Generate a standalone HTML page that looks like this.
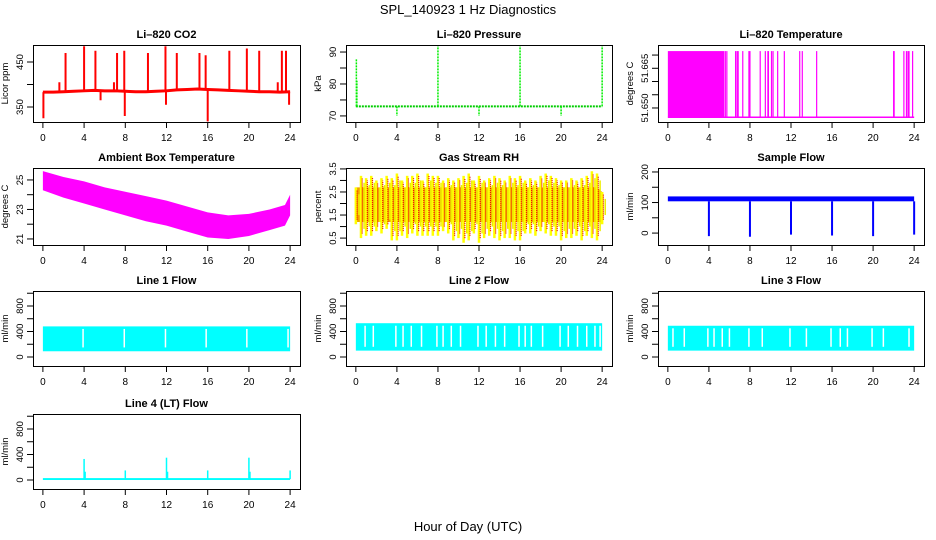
<!DOCTYPE html>
<html><head><meta charset="utf-8">
<style>
html,body{margin:0;padding:0;background:#fff;}
svg{display:block;font-family:"Liberation Sans",sans-serif;}
</style></head>
<body>
<svg id="fig" width="936" height="540" viewBox="0 0 936 540" xmlns="http://www.w3.org/2000/svg">
<text x="468" y="14" font-size="13" text-anchor="middle">SPL_140923  1 Hz Diagnostics</text>
<text x="468" y="531" font-size="13" text-anchor="middle">Hour of Day (UTC)</text>
</svg>
<script>
// ---- data ----
const xTicks = [0,4,8,12,16,20,24];
// CO2
const co2BaseT = [0,1,2,3,4,5,6,7,8,9,10,11,12,13,14,15,16,17,18,19,20,21,22,23,24];
const co2BaseV = [383,383,384,385,386,387,386,386,385,384,384,385,386,388,389,390,389,388,387,386,385,384,384,383,384];
const co2SpikeT = [0.05,1.6,2.2,4.0,5.1,5.6,6.9,7.2,7.9,7.95,10.2,11.9,11.95,13.0,15.2,15.8,16.0,18.1,19.8,21.0,22.8,23.2,23.6,23.9];
const co2SpikeV = [325,405,470,485,475,365,405,470,475,330,470,485,355,470,470,465,318,475,480,475,405,475,475,355];
// Pressure
const presSpikeT = [0.05,0.1,4,8,12,16,20,24];
const presSpikeV = [88,81,70,92,70,92,70,92];
const presBase = 73;
// Li-820 temperature
const ltempFillEnd = 5.5;
const ltempLineT = [5.6,5.75,6.6,6.75,6.85,7.3,7.9,8.0,9.0,9.5,9.75,9.8,10.1,10.25,10.7,11.35,12.85,13.1,14.5,22.0,22.05,23.0,23.25,23.4,23.5,23.85];
const ltempHi = 51.6715, ltempLo = 51.6465;
// Ambient box temperature
const ambT = [0,2,4,6,8,10,12,14,16,18,20,22,23.5,24];
const ambHi = [25.6,25.2,24.9,24.5,24.2,23.9,23.6,23.2,22.8,22.6,22.7,23.0,23.3,24.0];
const ambLo = [24.3,23.8,23.4,23.0,22.6,22.2,21.9,21.5,21.1,21.0,21.2,21.6,21.9,22.6];
// Gas stream RH
const rhT = [0,0.5,1,1.5,2,2.5,3,3.5,4,4.5,5,5.5,6,6.5,7,7.5,8,8.5,9,9.5,10,10.5,11,11.5,12,12.5,13,13.5,14,14.5,15,15.5,16,16.5,17,17.5,18,18.5,19,19.5,20,20.5,21,21.5,22,22.5,23,23.5,24];
const rhHi = [2.7,3.2,3.1,3.2,3.0,3.1,3.2,3.1,3.3,3.0,3.2,3.2,3.3,3.0,3.3,3.2,3.2,3.0,3.1,3.0,3.1,3.2,3.3,3.0,3.2,3.0,3.1,3.2,3.1,3.0,3.2,3.1,3.2,3.0,3.1,3.0,3.2,3.3,3.2,3.1,3.0,3.0,3.1,3.0,3.1,3.2,3.4,3.3,2.5];
const rhLo = [1.1,0.5,0.6,0.6,0.8,0.7,0.9,0.4,0.4,0.6,0.5,0.7,0.6,0.6,0.6,0.6,0.6,0.8,0.7,0.4,0.5,0.3,0.4,0.7,0.3,0.5,0.6,0.5,0.4,0.5,0.5,0.4,0.4,0.7,0.7,0.6,0.8,0.7,0.6,0.6,0.4,0.5,0.5,0.6,0.4,0.6,0.5,0.4,1.1];
// Sample flow
const sfBaseLo = 104, sfBaseHi = 120;
const sfDipT = [4,8,12,16,20,24];
const sfDipV = [-10,-12,-5,-8,-10,-5];
// Line flows
const l1Lo = 90, l1Hi = 480, l1GapT = [3.9,7.9,11.9,15.85,19.8,23.8];
const l2Lo = 100, l2Hi = 530, l2GapT = [0.9,1.7,3.9,4.6,5.4,6.4,7.9,8.5,9.3,10.2,11.9,12.7,13.6,14.5,15.9,16.5,17.1,18.2,19.9,20.7,21.6,22.5,23.3,23.8];
const l3Lo = 100, l3Hi = 490, l3GapT = [0.5,1.6,3.9,4.5,5.3,6.0,7.9,9.2,11.9,13.5,15.9,16.8,17.5,19.9,21.0,23.5];
const l4Base = 15;
const l4SpikeT = [4.0,4.1,8.0,12.0,12.1,16.0,20.0,20.1,24.0];
const l4SpikeV = [330,130,150,350,130,150,350,130,150];

// ---- layout ----
const svg = document.getElementById('fig');
const NS = 'http://www.w3.org/2000/svg';
const cols = [[33,300],[346,612],[658,924]];
const rows = [[45,122],[168,245],[291,366],[414,489]];
function el(tag, attrs, parent){ const e=document.createElementNS(NS,tag); for(const k in attrs) e.setAttribute(k,attrs[k]); (parent||svg).appendChild(e); return e; }

function panel(name, title, ylab, c, r, ymin, ymax, yt, ytLab){
  const [L,R]=cols[c],[T,B]=rows[r];
  const g = el('g',{});
  
  
  const p = {L,R,T,B,g,
    x:v=>L+(v+0.96)/25.92*(R-L),
    y:v=>T+(ymax-v)/(ymax-ymin)*(B-T)};
  const tt = el('text',{x:(L+R)/2,y:T-7,'font-size':11,'font-weight':'bold','text-anchor':'middle'},g);
  tt.textContent = title;
  
  
  p.plot = el('g',{},g);
  
  
  const box = el('rect',{x:L+0.5,y:T+0.5,width:R-L,height:B-T,fill:'none',stroke:'#000'},g);
  
  
  const xa = el('g',{},g);
  
  
  el('line',{x1:p.x(0),x2:p.x(24),y1:B+0.5,y2:B+0.5,stroke:'#000'},xa);
  xTicks.forEach(v=>{
    el('line',{x1:p.x(v),x2:p.x(v),y1:B,y2:B+6,stroke:'#000'},xa);
    const t=el('text',{x:p.x(v),y:B+19,'font-size':10,'text-anchor':'middle'},xa); t.textContent=v;
  });
  const ya = el('g',{},g);
  
  
  el('line',{x1:L+0.5,x2:L+0.5,y1:p.y(yt[0]),y2:p.y(yt[yt.length-1]),stroke:'#000'},ya);
  yt.forEach((v,i)=>{
    el('line',{x1:L-6,x2:L,y1:p.y(v),y2:p.y(v),stroke:'#000'},ya);
    if(ytLab[i]){ const yy=p.y(v); const t=el('text',{x:L-10,y:yy,'font-size':9.5,'text-anchor':'middle',transform:`rotate(-90 ${L-10} ${yy})`},ya); t.textContent=ytLab[i]; }
  });
  const yl=el('text',{x:L-25,y:(T+B)/2,'font-size':9.5,'text-anchor':'middle',transform:`rotate(-90 ${L-25} ${(T+B)/2})`},g);
  yl.textContent=ylab;
  
  
  return p;
}
function vline(p,t,a,b,col,w,dash){ const e=el('line',{x1:p.x(t),x2:p.x(t),y1:p.y(a),y2:p.y(b),stroke:col,'stroke-width':w||1.5},p.plot); if(dash) e.setAttribute('stroke-dasharray',dash); return e; }
function band(p,t0,t1,lo,hi,col){ return el('rect',{x:p.x(t0),y:p.y(hi),width:p.x(t1)-p.x(t0),height:p.y(lo)-p.y(hi),fill:col},p.plot); }

// CO2
let p = panel('co2-panel','Li\u2013820 CO2','Licor ppm',0,0,316.7,487.8,[350,400,450],['350','','450']);
let d='';
co2BaseT.forEach((t,i)=>{ d+=(i?'L':'M')+p.x(t)+' '+p.y(co2BaseV[i]); });
el('path',{d,fill:'none',stroke:'#f00','stroke-width':3},p.plot);
co2SpikeT.forEach((t,i)=>{ const b=co2BaseV[Math.min(24,Math.round(t))]; vline(p,t,b,co2SpikeV[i],'#f00',2); });

// Pressure
p = panel('pressure-panel','Li\u2013820 Pressure','kPa',1,0,68.1,92.2,[70,75,80,85,90],['70','','80','','90']);
el('line',{x1:p.x(0),x2:p.x(24),y1:p.y(presBase),y2:p.y(presBase),stroke:'#0c0','stroke-width':2,'stroke-dasharray':'2 1'},p.plot);
presSpikeT.forEach((t,i)=>vline(p,t,presBase,presSpikeV[i],'#0e0',1.5,'2 1'));

// Li-820 temperature
p = panel('li820-temp-panel','Li\u2013820 Temperature','degrees C',2,0,51.6447,51.6738,[51.650,51.655,51.660,51.665,51.670],['51.650','','','51.665','']);
band(p,0,ltempFillEnd,ltempLo,ltempHi,'#f0f');
el('line',{x1:p.x(0),x2:p.x(24),y1:p.y(ltempLo),y2:p.y(ltempLo),stroke:'#f0f','stroke-width':1.5},p.plot);
ltempLineT.forEach(t=>vline(p,t,ltempLo,ltempHi,'#f0f',1.2));

// Ambient
p = panel('ambient-temp-panel','Ambient Box Temperature','degrees C',0,1,20.59,25.81,[21,22,23,24,25],['21','','23','','25']);
d='';
ambT.forEach((t,i)=>{ d+=(i?'L':'M')+p.x(t)+' '+p.y(ambHi[i]); });
for(let i=ambT.length-1;i>=0;i--) d+='L'+p.x(ambT[i])+' '+p.y(ambLo[i]);
el('path',{d:d+'Z',fill:'#f0f'},p.plot);

// RH
p = panel('rh-panel','Gas Stream RH','percent',1,1,0.2,3.54,[0.5,1,1.5,2,2.5,3,3.5],['0.5','','1.5','','2.5','','3.5']);
d='';
rhT.forEach((t,i)=>{ d+=(i?'L':'M')+p.x(t)+' '+p.y(Math.min(rhHi[i],2.7)); });
for(let i=rhT.length-1;i>=0;i--) d+='L'+p.x(rhT[i])+' '+p.y(Math.max(rhLo[i],1.2));
el('path',{d:d+'Z',fill:'#f0a000'},p.plot);
rhT.forEach((t,i)=>{ vline(p,t,rhLo[i],rhHi[i],'#ff0',2.5); vline(p,t+0.12,rhLo[i]+0.2,rhHi[i]-0.1,'#e00',1.2,'1 1'); vline(p,t+0.3,rhLo[i]+0.4,rhHi[i]-0.3,'#ee0',1.5); });

// Sample flow
p = panel('sample-flow-panel','Sample Flow','ml/min',2,1,-39,213,[0,50,100,150,200],['0','','100','','200']);
band(p,0,24,sfBaseLo,sfBaseHi,'#00f');
sfDipT.forEach((t,i)=>vline(p,t,sfBaseLo,sfDipV[i],'#00f',2));

const flowY=[0,200,400,600,800,1000], flowLab=['0','','400','','800',''];
function flowPanel(name,title,c,r,lo,hi,gaps){
  const q = panel(name,title,'ml/min',c,r,-141,1035,flowY,flowLab);
  band(q,0,24,lo,hi,'#0ff');
  gaps.forEach(t=>vline(q,t,lo+60,hi-40,'#fff',1.5));
  return q;
}
flowPanel('line1-flow-panel','Line 1 Flow',0,2,l1Lo,l1Hi,l1GapT);
flowPanel('line2-flow-panel','Line 2 Flow',1,2,l2Lo,l2Hi,l2GapT);
flowPanel('line3-flow-panel','Line 3 Flow',2,2,l3Lo,l3Hi,l3GapT);
p = panel('line4-flow-panel','Line 4 (LT) Flow','ml/min',0,3,-141,1035,flowY,flowLab);
band(p,0,24,l4Base-15,l4Base+15,'#0ff');
l4SpikeT.forEach((t,i)=>vline(p,t,l4Base,l4SpikeV[i],'#0ff',1.5));
</script>
</body></html>
